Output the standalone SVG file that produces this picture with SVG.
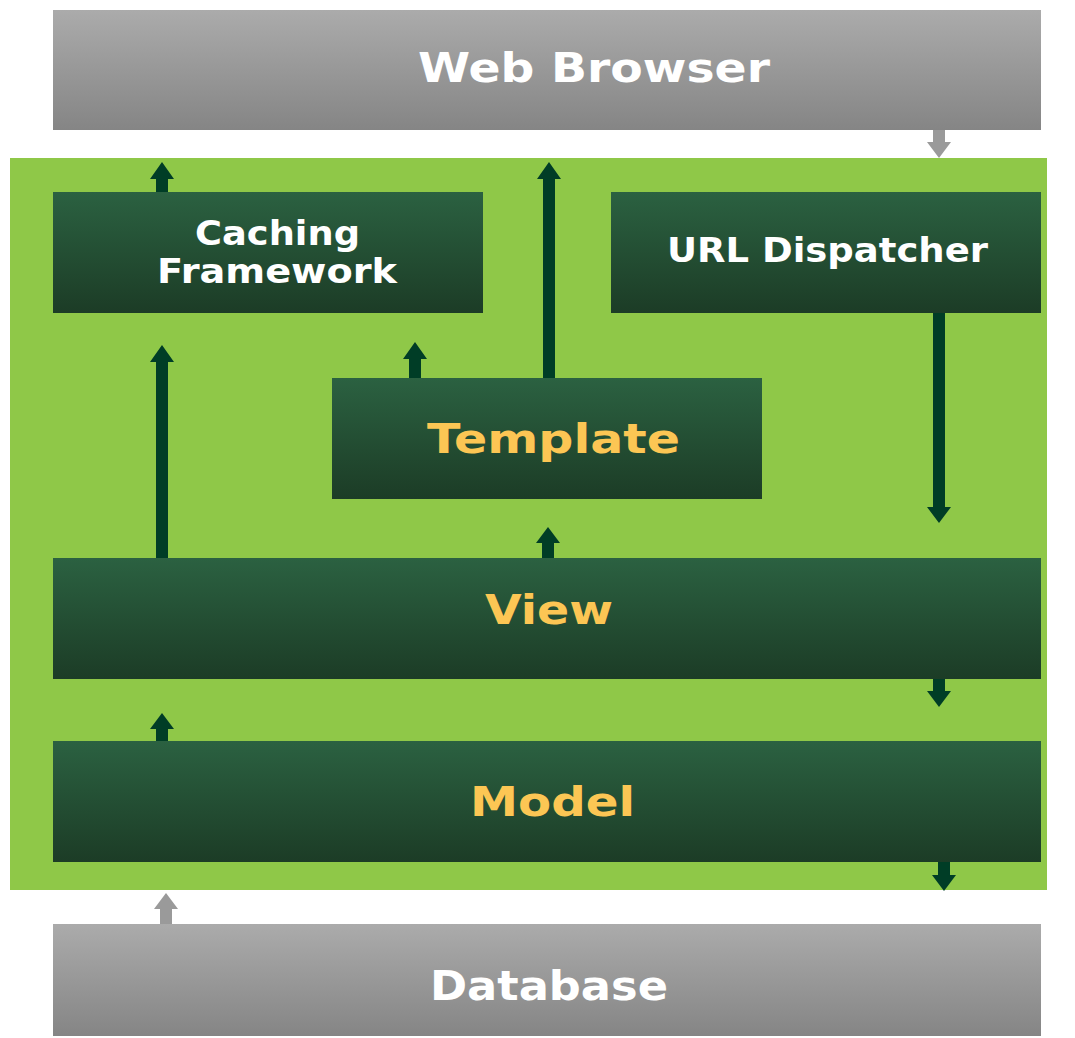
<svg xmlns="http://www.w3.org/2000/svg" width="1075" height="1038" viewBox="0 0 1075 1038">
<defs>
<linearGradient id="gGray" x1="0" y1="0" x2="0" y2="1"><stop offset="0" stop-color="#ababab"/><stop offset="1" stop-color="#858585"/></linearGradient>
<linearGradient id="gGreen" x1="0" y1="0" x2="0" y2="1"><stop offset="0" stop-color="#2b6141"/><stop offset="1" stop-color="#1c3c26"/></linearGradient>
<style>
.gray{fill:url(#gGray)}
.box{fill:url(#gGreen)}
.t{font-family:"DejaVu Sans",Verdana,sans-serif;font-weight:bold}
.w{fill:#ffffff}
.y{fill:#fcc654}
.a{fill:#003d26}
.ag{fill:#9a9a9a}
</style>
</defs>
<rect width="1075" height="1038" fill="#ffffff"/>
<rect id="container" x="10" y="158" width="1037" height="732" fill="#8fc848"/>
<g id="connectors">
<polygon class="ag" points="933,130 945,130 945,142 951,142 939,158 927,142 933,142"/>
<polygon class="a" points="156,192 156,179 150,179 162,162 174,179 168,179 168,192"/>
<polygon class="a" points="543,378 543,179 537,179 549,162 561,179 555,179 555,378"/>
<polygon class="a" points="933,313 945,313 945,507 951,507 939,523 927,507 933,507"/>
<polygon class="a" points="156,558 156,362 150,362 162,345 174,362 168,362 168,558"/>
<polygon class="a" points="409,378 409,359 403,359 415,342 427,359 421,359 421,378"/>
<polygon class="a" points="542,558 542,543 536,543 548,527 560,543 554,543 554,558"/>
<polygon class="a" points="933,679 945,679 945,691 951,691 939,707 927,691 933,691"/>
<polygon class="a" points="156,741 156,729 150,729 162,713 174,729 168,729 168,741"/>
<polygon class="a" points="938,862 950,862 950,875 956,875 944,891 932,875 938,875"/>
<polygon class="ag" points="160,924 160,909 154,909 166,893 178,909 172,909 172,924"/>
</g>
<g id="web-browser">
<rect class="gray" x="53" y="10" width="988" height="120"/>
<text class="t w" x="418" y="82" font-size="41" textLength="352" lengthAdjust="spacingAndGlyphs">Web Browser</text>
</g>
<g id="caching-framework">
<rect class="box" x="53" y="192" width="430" height="121"/>
<text class="t w" x="195" y="245" font-size="34" textLength="165" lengthAdjust="spacingAndGlyphs">Caching</text>
<text class="t w" x="157" y="283" font-size="34" textLength="240" lengthAdjust="spacingAndGlyphs">Framework</text>
</g>
<g id="url-dispatcher">
<rect class="box" x="611" y="192" width="430" height="121"/>
<text class="t w" x="667" y="262" font-size="34" textLength="321" lengthAdjust="spacingAndGlyphs">URL Dispatcher</text>
</g>
<g id="template">
<rect class="box" x="332" y="378" width="430" height="121"/>
<text class="t y" x="427" y="453" font-size="40" textLength="253" lengthAdjust="spacingAndGlyphs">Template</text>
</g>
<g id="view">
<rect class="box" x="53" y="558" width="988" height="121"/>
<text class="t y" x="485" y="624" font-size="40" textLength="128" lengthAdjust="spacingAndGlyphs">View</text>
</g>
<g id="model">
<rect class="box" x="53" y="741" width="988" height="121"/>
<text class="t y" x="470" y="816" font-size="40" textLength="165" lengthAdjust="spacingAndGlyphs">Model</text>
</g>
<g id="database">
<rect class="gray" x="53" y="924" width="988" height="112"/>
<text class="t w" x="430" y="1000" font-size="41" textLength="238" lengthAdjust="spacingAndGlyphs">Database</text>
</g>
</svg>
